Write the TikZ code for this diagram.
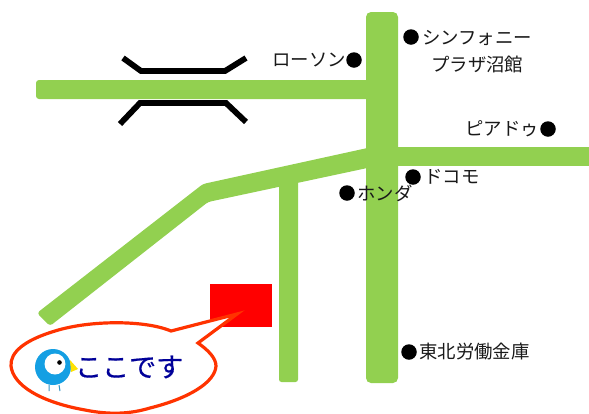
\documentclass[tikz,border=0pt]{standalone}
\usepackage{fontspec}
\setmainfont{Noto Sans CJK JP}
\newfontfamily\herefont[FakeBold=0.6]{Noto Sans CJK JP}
\definecolor{road}{HTML}{92D050}
\definecolor{bubble}{HTML}{FF3300}
\definecolor{birdblue}{HTML}{149FE3}
\definecolor{here}{HTML}{000099}
\tikzset{
  bridge/.style={draw=black,line width=5.8pt,line join=miter},
  lbl/.style={inner sep=0pt,font=\fontsize{18.4}{20}\selectfont,text=black!90,anchor=west},
  spot/.style={circle,fill=black,inner sep=0pt,minimum size=15.5pt}
}
\begin{document}
\begin{tikzpicture}[x=1pt,y=-1pt]
\useasboundingbox (0,0) rectangle (589,413);
% roads
\fill[road,rounded corners=3pt] (36,80) rectangle (380,99);
\fill[road] (380,147) rectangle (589,166);
\fill[road,rounded corners=2.5pt] (279,175) rectangle (298,382);
\fill[road,rounded corners=3pt] (37,313) -- (203,184) -- (372,147) -- (372,167) -- (208,202) -- (50,326) -- cycle;
\fill[road,rounded corners=5pt] (366,12) rectangle (398,383);
% bridge
\draw[bridge] (123,58) -- (141,71) -- (225,71) -- (246,58);
\draw[bridge] (120,124) -- (140,103) -- (226,103) -- (246,122);
% site
\fill[red] (210,284) rectangle (272,327);
% bubble
\filldraw[draw=bubble,fill=white,line width=3.2pt,line join=miter]
  (171,331) .. controls (145,320) and (90,320) .. (55,331)
  .. controls (25,340) and (10,352) .. (11,366)
  .. controls (13,385) and (40,402) .. (85,410)
  .. controls (110,415) and (130,414) .. (150,408)
  .. controls (190,398) and (215,382) .. (216,366)
  .. controls (216,358) and (208,350) .. (198,343)
  -- (237,314) -- cycle;
% bird
\fill[birdblue] (53,367) circle (18);
\fill[white] (55,364) circle (10.5);
\fill[black] (59.5,362.5) circle (2.3);
\fill[yellow!85!orange] (70,360) -- (78,369) -- (71,372) -- cycle;
\draw[birdblue!70!gray,line width=1pt] (49,385) -- (49,391) (59,385) -- (60,391);
% labels
\node[spot] (s1) at (411,37) {};
\node[lbl] (t1) at (422,38) {シンフォニー};
\node[lbl] (t2) at (431,64) {プラザ沼館};
\node[spot] (s2) at (354,60) {};
\node[lbl,anchor=east] (t3) at (346,60) {ローソン};
\node[spot] (s3) at (548,129) {};
\node[lbl,anchor=east] (t4) at (539,129) {ピアドゥ};
\node[spot] (s4) at (413,177) {};
\node[lbl] (t5) at (424,177) {ドコモ};
\node[spot] (s5) at (347,193) {};
\node[lbl] (t6) at (357,193) {ホンダ};
\node[spot] (s6) at (409,352) {};
\node[lbl] (t7) at (419,352) {東北労働金庫};
\node[inner sep=0pt,anchor=west,text=here,font=\herefont\fontsize{27}{30}\selectfont] (t8) at (75,367) {ここです};
\end{tikzpicture}
\end{document}
